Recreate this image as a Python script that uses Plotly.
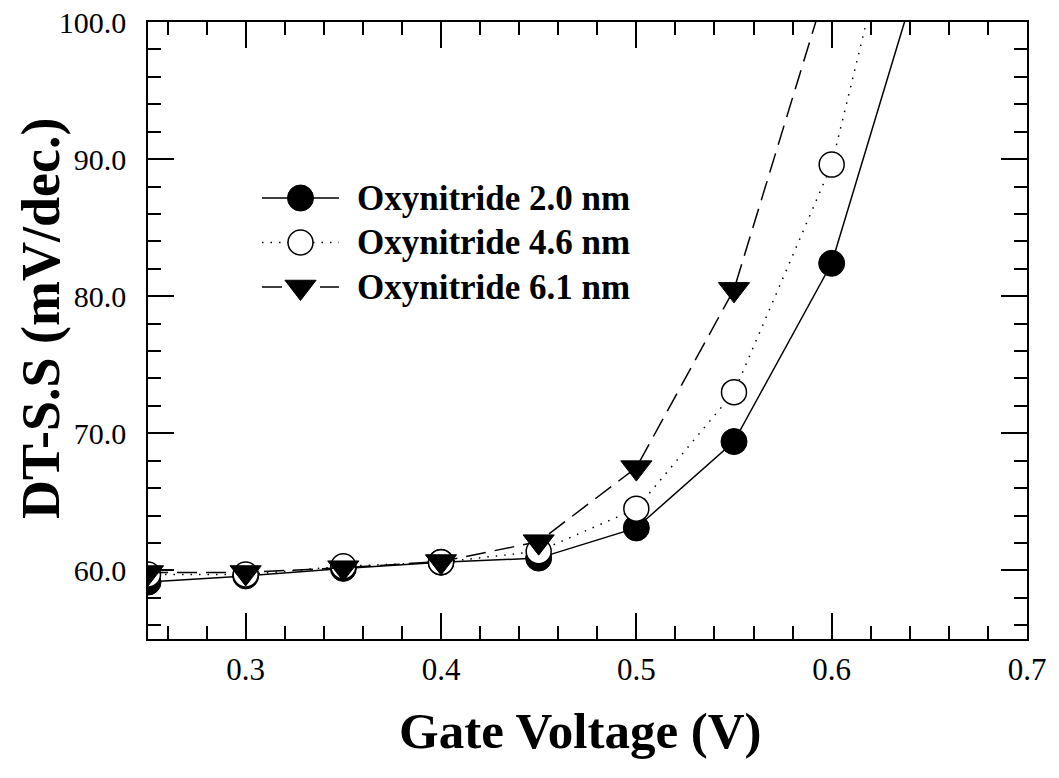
import plotly.graph_objects as go

# Gate voltage sweep (V)
gate_v = [0.25, 0.30, 0.35, 0.40, 0.45, 0.50, 0.55, 0.60, 0.65]

# Subthreshold swing (mV/dec.) per oxynitride thickness
ss_20nm = [59.15, 59.6, 60.15, 60.6, 60.9, 63.1, 69.4, 82.4, 106.0]
ss_46nm = [59.7, 59.7, 60.3, 60.6, 61.4, 64.5, 73.0, 89.6, 118.8]
ss_61nm = [59.85, 59.85, 60.2, 60.65, 62.1, 67.5, 80.5, 103.8]

names = ["Oxynitride 2.0 nm", "Oxynitride 4.6 nm", "Oxynitride 6.1 nm"]

FONT = "Liberation Serif"

# Canvas and plot-area geometry (pixels)
W, H = 1059, 778
ML, MR, MT, MB = 148, 32, 22, 139
PX0, PX1 = ML, W - MR
PY0, PY1 = MT, H - MB

styles = [
    dict(line=dict(color="black", width=1.5, dash="solid"),
         marker=dict(symbol="circle", size=26, color="black",
                     line=dict(color="black", width=1))),
    dict(line=dict(color="black", width=1.5, dash="1.5px,7px"),
         marker=dict(symbol="circle", size=25, color="white",
                     line=dict(color="black", width=1.5))),
    dict(line=dict(color="black", width=1.5, dash="20px,9px"),
         marker=dict(symbol="triangle-down", size=27, color="black",
                     line=dict(color="black", width=1))),
]
series = [ss_20nm, ss_46nm, ss_61nm]

fig = go.Figure()

for name, ys, st in zip(names, series, styles):
    fig.add_trace(go.Scatter(
        x=gate_v[:len(ys)], y=ys, name=name, mode="lines+markers",
        showlegend=False, cliponaxis=True, **st,
    ))

# Legend key drawn on a pixel-space overlay axis so the symbols keep full size
LEG_LINE_X0, LEG_LINE_X1 = 262, 339
LEG_TEXT_X = 355
LEG_ROW0, LEG_ROW_STEP = 198, 44.5
for i, (name, st) in enumerate(zip(names, styles)):
    ry = LEG_ROW0 + i * LEG_ROW_STEP
    fig.add_trace(go.Scatter(
        x=[LEG_LINE_X0, LEG_LINE_X1], y=[ry, ry], mode="lines",
        line=st["line"], xaxis="x2", yaxis="y2", showlegend=False,
        hoverinfo="skip",
    ))
    fig.add_trace(go.Scatter(
        x=[(LEG_LINE_X0 + LEG_LINE_X1) / 2], y=[ry], mode="markers",
        marker=st["marker"], xaxis="x2", yaxis="y2", showlegend=False,
        hoverinfo="skip",
    ))
    fig.add_annotation(
        x=LEG_TEXT_X, y=ry, xref="x2", yref="y2", text=f"<b>{name}</b>",
        showarrow=False, xanchor="left", yanchor="middle",
        font=dict(family=FONT, size=35, color="black"),
    )

axis_common = dict(
    showline=True, linecolor="black", linewidth=1.5, mirror="allticks",
    ticks="inside", tickcolor="black", tickwidth=1.5,
    showgrid=False, zeroline=False, automargin=False,
)

fig.update_layout(
    xaxis=dict(
        **axis_common,
        range=[0.25, 0.7], tick0=0.3, dtick=0.1, ticklen=26,
        tickformat=".1f",
        minor=dict(dtick=0.02, ticklen=13, ticks="inside", tickcolor="black", tickwidth=1.5),
        tickfont=dict(family=FONT, size=31, color="black"),
        ticklabelstandoff=2,
    ),
    yaxis=dict(
        **axis_common,
        range=[55, 100], tick0=60, dtick=10, ticklen=26,
        tickformat=".1f",
        minor=dict(dtick=2, ticklen=13, ticks="inside", tickcolor="black", tickwidth=1.5),
        tickfont=dict(family=FONT, size=30, color="black"),
        ticklabelstandoff=14,
    ),
    xaxis2=dict(overlaying="x", range=[PX0, PX1], visible=False, fixedrange=True),
    yaxis2=dict(overlaying="y", range=[PY1, PY0], visible=False, fixedrange=True),
    width=W, height=H,
    margin=dict(l=ML, r=MR, t=MT, b=MB),
    paper_bgcolor="white", plot_bgcolor="white",
    font=dict(family=FONT, color="black"),
    showlegend=False,
)

# Axis titles
fig.add_annotation(
    x=(580 - PX0) / (PX1 - PX0), y=-(731 - PY1) / (PY1 - PY0),
    xref="paper", yref="paper", text="<b>Gate Voltage (V)</b>",
    showarrow=False, xanchor="center", yanchor="middle",
    font=dict(family=FONT, size=51, color="black"),
)
fig.add_annotation(
    x=-(PX0 - 41) / (PX1 - PX0), y=(PY1 - 318) / (PY1 - PY0),
    xref="paper", yref="paper", text="<b>DT-S.S (mV/dec.)</b>",
    showarrow=False, xanchor="center", yanchor="middle", textangle=-90,
    font=dict(family=FONT, size=54, color="black"),
)

fig.write_html("out.html")
